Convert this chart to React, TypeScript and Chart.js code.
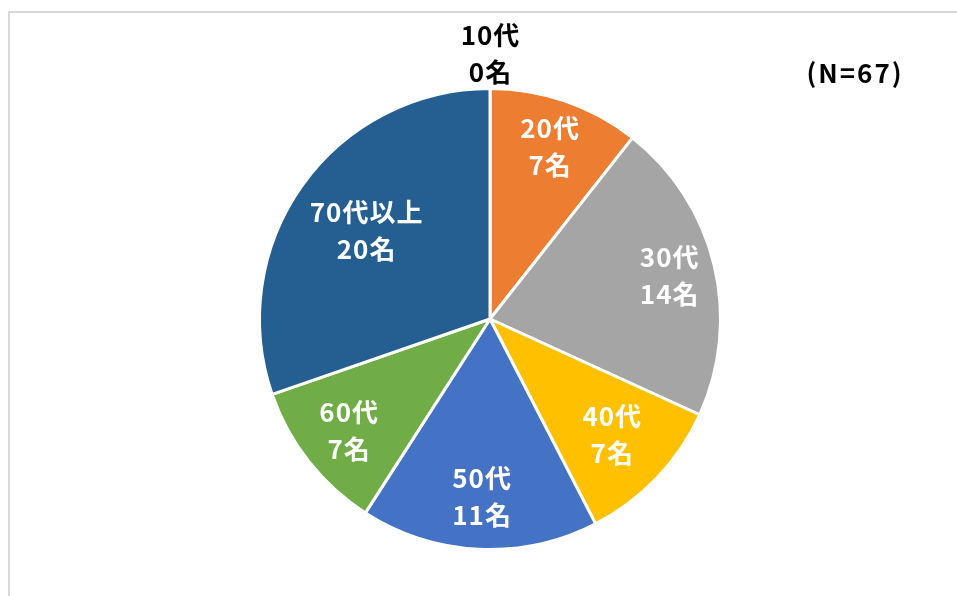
import React, { useEffect, useRef } from "react";
import { Chart, registerables } from "chart.js";

Chart.register(...registerables);

const categories = ["10代", "20代", "30代", "40代", "50代", "60代", "70代以上"];
const counts = [0, 7, 14, 7, 11, 7, 20];
const sliceColors = ["#5B9BD5", "#ED7D31", "#A5A5A5", "#FFC000", "#4472C4", "#70AD47", "#255E91"];
const totalLabel = "(N=67)";
const unit = "名";

const labelRadius = [1.15, 0.79, 0.8, 0.73, 0.77, 0.78, 0.66];
const FONT = "'Noto Sans CJK JP', 'Noto Sans', sans-serif";

function drawSpaced(ctx: any, text: string, x: number, y: number, spacing: number) {
  ctx.letterSpacing = `${spacing}px`;
  const w = ctx.measureText(text).width - spacing;
  ctx.textAlign = "left";
  ctx.fillText(text, x - w / 2, y);
  ctx.letterSpacing = "0px";
}

const labelPlugin = {
  id: "sliceLabels",
  afterDatasetsDraw(chart: any) {
    const ctx = chart.ctx;
    const meta = chart.getDatasetMeta(0);
    ctx.save();
    ctx.font = `bold 26px ${FONT}`;
    ctx.textBaseline = "middle";
    meta.data.forEach((arc: any, i: number) => {
      const { x, y, startAngle, endAngle, outerRadius } = arc.getProps(
        ["x", "y", "startAngle", "endAngle", "outerRadius"],
        true
      );
      const mid = (startAngle + endAngle) / 2;
      const r = outerRadius * labelRadius[i];
      const cx = x + Math.cos(mid) * r;
      const cy = y + Math.sin(mid) * r;
      ctx.fillStyle = counts[i] === 0 ? "#000000" : "#FFFFFF";
      const lines = [categories[i], `${counts[i]}${unit}`];
      lines.forEach((t, k) => {
        drawSpaced(ctx, t, cx, cy + (k - 0.5) * 37, 1);
      });
    });
    ctx.fillStyle = "#000000";
    drawSpaced(ctx, totalLabel, 854, 73, 2);
    ctx.restore();
  },
};

export default function App() {
  const ref = useRef<HTMLCanvasElement>(null);
  useEffect(() => {
    if (!ref.current) return;
    const chart = new Chart(ref.current, {
      type: "pie",
      data: {
        labels: categories,
        datasets: [
          {
            data: counts,
            backgroundColor: sliceColors,
            borderColor: "#FFFFFF",
            borderWidth: 3,
          },
        ],
      },
      options: {
        animation: false,
        responsive: false,
        maintainAspectRatio: false,
        layout: { padding: { top: 87, bottom: 45, left: 258, right: 235 } },
        plugins: {
          legend: { display: false },
          tooltip: { enabled: false },
          title: { display: false },
        },
      },
      plugins: [labelPlugin],
    });
    return () => chart.destroy();
  }, []);

  return (
    <div
      style={{
        position: "fixed",
        left: 0,
        top: 0,
        width: 957,
        height: 596,
        overflow: "hidden",
        background: "#FFFFFF",
      }}
    >
      <div
        style={{
          position: "absolute",
          left: 8,
          top: 11,
          width: 1200,
          height: 900,
          border: "2px solid #D9D9D9",
          boxSizing: "border-box",
        }}
      />
      <canvas
        ref={ref}
        width={957}
        height={596}
        style={{ position: "absolute", left: 0, top: 0, width: 957, height: 596 }}
      />
    </div>
  );
}
